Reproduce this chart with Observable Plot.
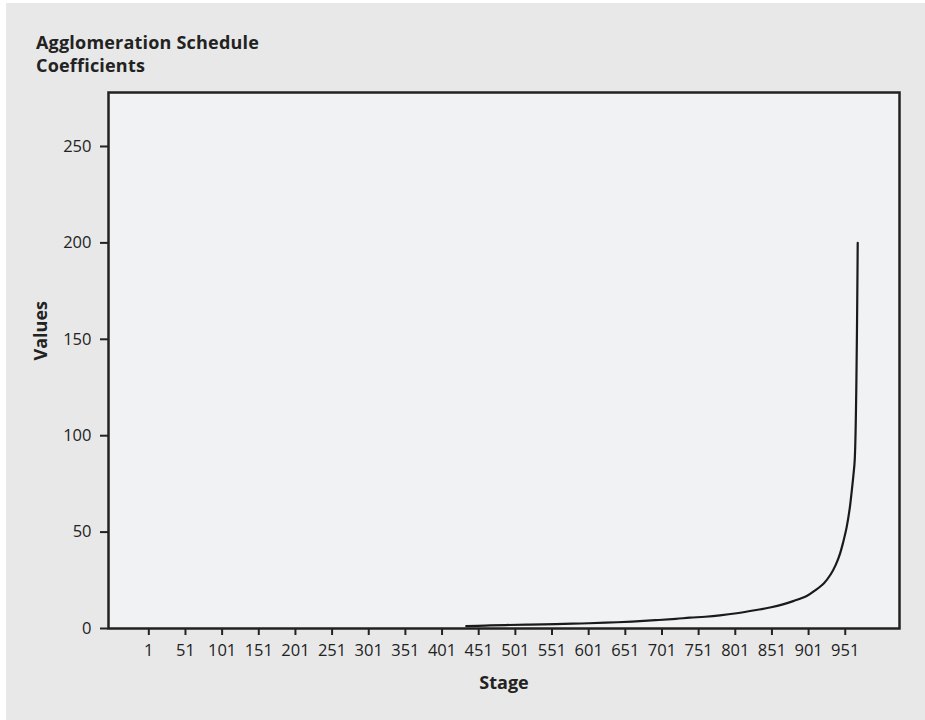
<!DOCTYPE html>
<html>
<head>
<meta charset="utf-8">
<script src="https://cdn.jsdelivr.net/npm/d3@7"></script>
<script src="https://cdn.jsdelivr.net/npm/@observablehq/plot@0.6"></script>
<style>
  html, body { margin: 0; padding: 0; background: #ffffff; }
  #wrap { position: relative; width: 925px; height: 720px; overflow: hidden; font-family: "Open Sans", "Noto Sans", sans-serif; }
  #bg { position: absolute; left: 6px; top: 3px; width: 919px; height: 717px; background: #e8e8e8; }
  #title { position: absolute; left: 36px; top: 31px; font-weight: 700; font-size: 18px; letter-spacing: 0.2px; line-height: 23px; color: #222; }
  #chart { position: absolute; left: 0; top: 80px; }
</style>
</head>
<body>
<div id="wrap">
  <div id="bg"></div>
  <div id="title">Agglomeration Schedule<br>Coefficients</div>
  <div id="chart"></div>
</div>
<script>
// Stage numbers (x) and agglomeration coefficients (y)
const stages = [434, 460, 487, 520, 556, 590, 624, 660, 692, 720, 739, 760, 780, 803, 830, 850, 866, 880, 899, 910, 922, 931, 938, 944, 948, 953, 957, 960, 962, 964, 968];
const coefficients = [1.2, 1.5, 1.8, 2.0, 2.3, 2.6, 3.0, 3.6, 4.3, 5.0, 5.6, 6.1, 6.8, 7.9, 9.6, 11.0, 12.5, 14.2, 17.0, 19.8, 23.5, 28.0, 33.0, 39.0, 44.5, 52.7, 62.0, 71.8, 79.0, 88.0, 200.0];
const xTicks = [1, 51, 101, 151, 201, 251, 301, 351, 401, 451, 501, 551, 601, 651, 701, 751, 801, 851, 901, 951];
const yTicks = [0, 50, 100, 150, 200, 250];
const xLabel = "Stage";
const yLabel = "Values";

const data = stages.map((s, i) => ({stage: s, value: coefficients[i]}));

const chart = Plot.plot({
  width: 925,
  height: 640,
  marginTop: 12,
  marginBottom: 92,
  marginLeft: 108,
  marginRight: 26,
  style: {background: "transparent", fontFamily: "'Open Sans', 'Noto Sans', sans-serif", fontSize: "16px", color: "#222"},
  x: {domain: [-54, 1025]},
  y: {domain: [0, 278]},
  marks: [
    Plot.frame({fill: "#f1f2f4", stroke: null}),
    Plot.axisX({ticks: xTicks, tickFormat: d => String(d), tickSize: 7, tickPadding: 9, strokeWidth: 2, stroke: "#222", fill: "#222", fontSize: 16.5, label: null}),
    Plot.axisY({ticks: yTicks, tickFormat: d => String(d), tickSize: 8, tickPadding: 9, strokeWidth: 2, stroke: "#222", fill: "#222", fontSize: 16.5, label: null}),
    Plot.line(data, {x: "stage", y: "value", stroke: "#1a1a1a", strokeWidth: 2.2, curve: "catmull-rom"}),
    Plot.frame({stroke: "#222", strokeWidth: 2.5}),
    Plot.text([xLabel], {frameAnchor: "bottom", dy: 60, fontWeight: "bold", fontSize: 18, fill: "#222", lineAnchor: "bottom"}),
    Plot.text([yLabel], {frameAnchor: "left", dx: -67, rotate: -90, fontWeight: "bold", fontSize: 18, fill: "#222"})
  ]
});
document.getElementById("chart").appendChild(chart);
</script>
</body>
</html>
